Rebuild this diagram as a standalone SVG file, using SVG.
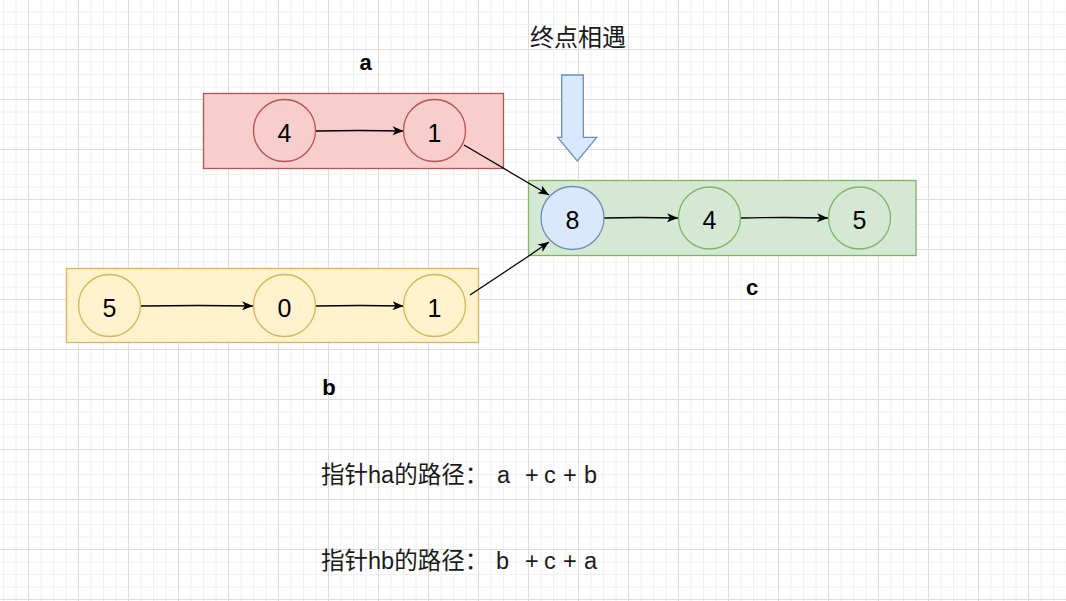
<svg xmlns="http://www.w3.org/2000/svg" width="1066" height="601" viewBox="0 0 1066 601">
  <style>
    .digit { font-family: "Liberation Sans", Arial, sans-serif; font-size: 25px; fill: #000; text-anchor: middle; }
    .lbl { font-family: "Liberation Sans", Arial, sans-serif; font-size: 22px; font-weight: bold; fill: #000; text-anchor: middle; }
    .cjk { font-family: "Liberation Sans", "Noto Sans CJK SC", sans-serif; font-size: 23.5px; fill: #1a1a1a; }
    .title { font-size: 24px; }
    .edge { fill: none; stroke: #000; stroke-width: 1.3; }
    .red { fill: #f8cecc; stroke: #b85450; stroke-width: 1.3; }
    .grn { fill: #d5e8d4; stroke: #82b366; stroke-width: 1.3; }
    .yel { fill: #fff2cc; stroke: #d6b656; stroke-width: 1.3; }
    .blu { fill: #dae8fc; stroke: #6c8ebf; stroke-width: 1.3; }
  </style>
  <defs>
    <pattern id="grid" patternUnits="userSpaceOnUse" x="28" y="49" width="50" height="50">
      <path d="M13 0V50M25.5 0V50M38 0V50M0 13H50M0 25.5H50M0 38H50" stroke="#f0f0f0" stroke-width="1" fill="none"/>
      <path d="M0.5 0V50M0 0.5H50" stroke="#dcdcdc" stroke-width="1" fill="none"/>
    </pattern>
    <marker id="arr" markerUnits="userSpaceOnUse" markerWidth="12" markerHeight="10" viewBox="0 0 12 10" refX="11" refY="5" orient="auto">
      <path d="M0,0.5 L11,5 L0,9.5 L3,5 Z" fill="#000"/>
    </marker>
  </defs>
  <rect width="1066" height="601" fill="#fff"/>
  <rect width="1066" height="601" fill="url(#grid)"/>

  <g id="group-a">
    <rect class="red" x="203.5" y="93.5" width="300" height="75"/>
  </g>
  <g id="group-c">
    <rect class="grn" x="528.5" y="180.5" width="387.5" height="75"/>
  </g>
  <g id="group-b">
    <rect class="yel" x="66.5" y="268.5" width="412" height="74"/>
  </g>

  <g id="connectors">
    <path class="edge" d="M315.5 131 Q360 130 403.5 131" marker-end="url(#arr)"/>
    <path class="edge" d="M464 145 L549 195" marker-end="url(#arr)"/>
    <path class="edge" d="M141 306 Q200 305 253 306" marker-end="url(#arr)"/>
    <path class="edge" d="M316 306 Q360 305 403.5 306" marker-end="url(#arr)"/>
    <path class="edge" d="M470 295 L528 256.5 L549 242" marker-end="url(#arr)"/>
    <path class="edge" d="M604 218 Q640 217 678 218" marker-end="url(#arr)"/>
    <path class="edge" d="M741 218 Q785 217 828 218" marker-end="url(#arr)"/>
  </g>

  <g id="a-node-4"><circle class="red" cx="284.5" cy="130.5" r="31"/><text class="digit" x="284.5" y="141.5">4</text></g>
  <g id="a-node-1"><circle class="red" cx="434.5" cy="130.5" r="31"/><text class="digit" x="434.5" y="141.5">1</text></g>

  <g id="c-node-8"><circle class="blu" cx="572.5" cy="218" r="31.5"/><text class="digit" x="572.5" y="229">8</text></g>
  <g id="c-node-4"><circle class="grn" cx="709.5" cy="218" r="31"/><text class="digit" x="709.5" y="229">4</text></g>
  <g id="c-node-5"><circle class="grn" cx="859.5" cy="218" r="31"/><text class="digit" x="859.5" y="229">5</text></g>

  <g id="b-node-5"><circle class="yel" cx="109.5" cy="305.5" r="31"/><text class="digit" x="109.5" y="316.5">5</text></g>
  <g id="b-node-0"><circle class="yel" cx="284.5" cy="305.5" r="31"/><text class="digit" x="284.5" y="316.5">0</text></g>
  <g id="b-node-1"><circle class="yel" cx="434.5" cy="305.5" r="31"/><text class="digit" x="434.5" y="316.5">1</text></g>

  <g id="meet-arrow">
    <path class="blu" d="M561.7 75 H583.3 V137.3 H596.7 L577.3 161 L557.7 137.3 H561.7 Z"/>
  </g>

  <g id="labels">
    <text class="cjk title" x="578" y="46" text-anchor="middle">终点相遇</text>
    <text class="lbl" x="365.5" y="70">a</text>
    <text class="lbl" x="752" y="295">c</text>
    <text class="lbl" x="329" y="395">b</text>
    <text class="cjk" y="483"><tspan x="321">指针ha的路径：</tspan><tspan x="497">a</tspan><tspan x="525">+</tspan><tspan x="544">c</tspan><tspan x="563">+</tspan><tspan x="584">b</tspan></text>
    <text class="cjk" y="569"><tspan x="321">指针hb的路径：</tspan><tspan x="496">b</tspan><tspan x="525">+</tspan><tspan x="544">c</tspan><tspan x="563">+</tspan><tspan x="584">a</tspan></text>
  </g>
</svg>
